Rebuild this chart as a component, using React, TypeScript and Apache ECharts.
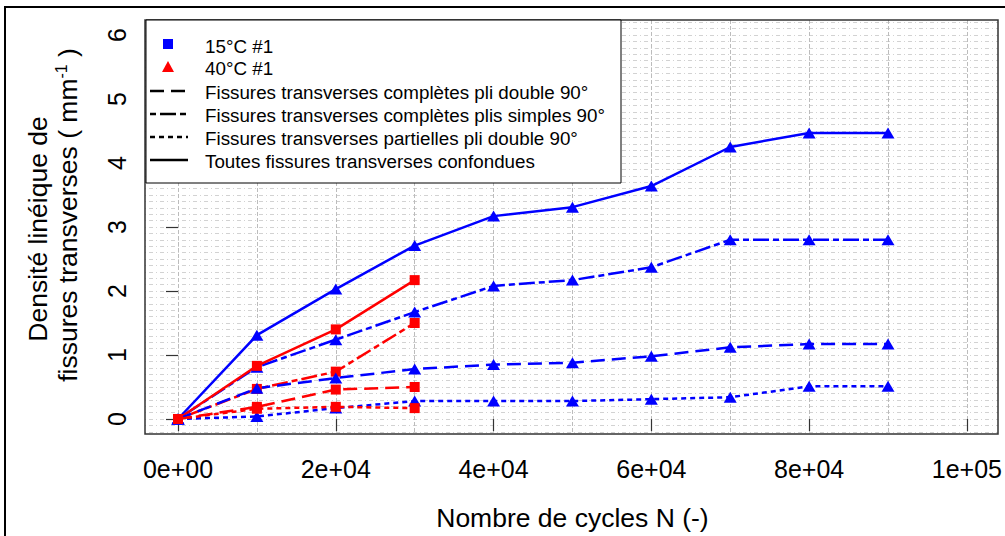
import React, { useEffect, useRef } from "react";
import * as echarts from "echarts";

// ---- data ----
const cycles15 = [0, 10000, 20000, 30000, 40000, 50000, 60000, 70000, 80000, 90000];
const cycles40 = [0, 10000, 20000, 30000];

const blueTotal = [0, 1.31, 2.03, 2.71, 3.17, 3.31, 3.64, 4.25, 4.47, 4.47];
const blueSimples = [0, 0.81, 1.24, 1.67, 2.08, 2.17, 2.37, 2.8, 2.8, 2.8];
const blueDouble = [0, 0.48, 0.64, 0.78, 0.85, 0.88, 0.98, 1.12, 1.17, 1.17];
const bluePartielles = [0, 0.04, 0.17, 0.28, 0.28, 0.28, 0.31, 0.34, 0.51, 0.51];

const redTotal = [0, 0.83, 1.4, 2.17];
const redSimples = [0, 0.47, 0.74, 1.5];
const redDouble = [0, 0.19, 0.46, 0.5];
const redPartielles = [0, 0.16, 0.19, 0.17];

const xTickValues = [0, 20000, 40000, 60000, 80000, 100000];
const xTickLabels = ["0e+00", "2e+04", "4e+04", "6e+04", "8e+04", "1e+05"];
const yTickLabels = ["0", "1", "2", "3", "4", "5", "6"];

const legendLabels = [
  "15°C #1",
  "40°C #1",
  "Fissures transverses complètes pli double 90°",
  "Fissures transverses complètes plis simples 90°",
  "Fissures transverses partielles pli double 90°",
  "Toutes fissures transverses confondues",
];

const xTitle = "Nombre de cycles N (-)";
const yTitle1 = "Densité linéique de";
const yTitle2 = "fissures transverses ( mm{s|-1} )";

// ---- styles ----
const FONT = "'Liberation Sans', Arial, sans-serif";
const BLUE = "#0000ff";
const RED = "#ff0000";
const DASH_DOUBLE = [14, 7];
const DASH_SIMPLES = [6, 4, 16, 4];
const DASH_PART = [5, 4];

function mkSeries(name: string, xs: number[], ys: number[], color: string, type: any, symbol: string) {
  return {
    type: "line",
    name,
    xAxisIndex: 0,
    yAxisIndex: 0,
    data: xs.map((x, i) => [x, ys[i]]),
    symbol,
    symbolSize: symbol === "triangle" ? [13, 11] : 10,
    clip: false,
    lineStyle: { color, width: 2.5, type },
    itemStyle: { color, borderWidth: 0 },
    z: 3,
  };
}

export default function App() {
  const ref = useRef<HTMLDivElement>(null);

  useEffect(() => {
    if (!ref.current) return;
    const chart = echarts.init(ref.current, null, { renderer: "svg" });

    const hiddenParts = {
      axisLine: { show: false },
      axisTick: { show: false },
      axisLabel: { show: false },
    };

    const legendRowsY = [46, 68, 92, 115, 138, 161];
    const lineDashes: any[] = [DASH_DOUBLE, DASH_SIMPLES, DASH_PART, null];

    const graphic: any[] = [
      // outer frame
      {
        type: "rect",
        shape: { x: 5, y: 7, width: 1010, height: 540 },
        style: { fill: "none", stroke: "#000", lineWidth: 2 },
        z: 60,
      },
      // plot box
      {
        type: "rect",
        shape: { x: 145, y: 20, width: 853, height: 414 },
        style: { fill: "none", stroke: "#333", lineWidth: 1.5 },
        z: 40,
      },
      // legend box
      {
        type: "rect",
        shape: { x: 146, y: 20, width: 475, height: 163 },
        style: { fill: "#fff", stroke: "#000", lineWidth: 1 },
        z: 50,
      },
      {
        type: "rect",
        shape: { x: 163, y: legendRowsY[0] - 7, width: 10, height: 10 },
        style: { fill: BLUE },
        z: 51,
      },
      {
        type: "polygon",
        shape: {
          points: [
            [168, legendRowsY[1] - 7],
            [174, legendRowsY[1] + 4],
            [162, legendRowsY[1] + 4],
          ],
        },
        style: { fill: RED },
        z: 51,
      },
      ...lineDashes.map((d, i) => ({
        type: "line",
        shape: { x1: 150, y1: legendRowsY[i + 2] - 1, x2: 188, y2: legendRowsY[i + 2] - 1 },
        style: { stroke: "#000", lineWidth: 2.5, lineDash: d || undefined },
        z: 51,
      })),
      ...legendLabels.map((t, i) => ({
        type: "text",
        x: 205,
        y: legendRowsY[i],
        style: {
          text: t,
          fontSize: 18.8,
          fontFamily: FONT,
          fill: "#000",
          align: "left",
          verticalAlign: "middle",
        },
        z: 51,
      })),
      // y title
      {
        type: "text",
        x: 38,
        y: 229,
        rotation: Math.PI / 2,
        style: {
          text: yTitle1,
          fontSize: 26.5,
          fontFamily: FONT,
          fill: "#000",
          align: "center",
          verticalAlign: "middle",
        },
        z: 51,
      },
      {
        type: "text",
        x: 68,
        y: 215,
        rotation: Math.PI / 2,
        style: {
          text: yTitle2,
          fontSize: 26.5,
          lineHeight: 30,
          fontFamily: FONT,
          fill: "#000",
          align: "center",
          verticalAlign: "middle",
          rich: {
            s: { fontSize: 16, lineHeight: 16, verticalAlign: "top", fontFamily: FONT, fill: "#000" },
          },
        },
        z: 51,
      },
    ];

    chart.setOption({
      animation: false,
      backgroundColor: "#fff",
      textStyle: { fontFamily: FONT },
      grid: [
        { left: 178, right: 38, top: 35, bottom: 117 },
        { left: 178, right: 38, top: 20, bottom: 102 },
        { left: 145, right: 7, top: 22.2, bottom: 104.2 },
      ],
      xAxis: [
        {
          type: "value",
          gridIndex: 0,
          min: 0,
          max: 100000,
          interval: 20000,
          offset: 15,
          axisLine: { show: false },
          axisTick: { show: true, length: 12, lineStyle: { color: "#333", width: 1.2 } },
          axisLabel: {
            show: true,
            margin: 22,
            fontSize: 25,
            color: "#000",
            fontFamily: FONT,
            formatter: (v: number) => xTickLabels[xTickValues.indexOf(v)] ?? "",
          },
          splitLine: { show: false },
          name: xTitle,
          nameLocation: "middle",
          nameGap: 70,
          nameTextStyle: { fontSize: 26.5, color: "#000", fontFamily: FONT },
        },
        {
          type: "value",
          gridIndex: 1,
          min: 0,
          max: 100000,
          interval: 10000,
          ...hiddenParts,
          splitLine: { show: true, lineStyle: { color: "#bcbcbc", width: 1, type: [4, 2] } },
        },
        {
          type: "value",
          gridIndex: 2,
          min: 0,
          max: 1,
          ...hiddenParts,
          splitLine: { show: false },
        },
      ],
      yAxis: [
        {
          type: "value",
          gridIndex: 0,
          min: 0,
          max: 6,
          interval: 1,
          offset: 33,
          axisLine: { show: false },
          axisTick: { show: true, length: 12, lineStyle: { color: "#333", width: 1.2 } },
          axisLabel: {
            show: true,
            rotate: 90,
            margin: 16,
            fontSize: 25,
            color: "#000",
            fontFamily: FONT,
            formatter: (v: number) => yTickLabels[Math.round(v)] ?? "",
          },
          splitLine: { show: false },
        },
        {
          type: "value",
          gridIndex: 1,
          min: 0,
          max: 1,
          ...hiddenParts,
          splitLine: { show: false },
        },
        {
          type: "value",
          gridIndex: 2,
          min: -0.2,
          max: 6.2,
          interval: 0.1,
          ...hiddenParts,
          splitLine: { show: true, lineStyle: { color: "#d2d2d2", width: 1, type: [1, 3, 4, 3] } },
        },
      ],
      series: [
        mkSeries("15°C total", cycles15, blueTotal, BLUE, "solid", "triangle"),
        mkSeries("15°C simples", cycles15, blueSimples, BLUE, DASH_SIMPLES, "triangle"),
        mkSeries("40°C total", cycles40, redTotal, RED, "solid", "rect"),
        mkSeries("40°C simples", cycles40, redSimples, RED, DASH_SIMPLES, "rect"),
        mkSeries("15°C double", cycles15, blueDouble, BLUE, DASH_DOUBLE, "triangle"),
        mkSeries("15°C partielles", cycles15, bluePartielles, BLUE, DASH_PART, "triangle"),
        mkSeries("40°C double", cycles40, redDouble, RED, DASH_DOUBLE, "rect"),
        mkSeries("40°C partielles", cycles40, redPartielles, RED, DASH_PART, "rect"),
      ],
      graphic,
    });

    return () => chart.dispose();
  }, []);

  return (
    <div
      ref={ref}
      style={{ position: "fixed", left: 0, top: 0, width: 1005, height: 536, background: "#fff" }}
    />
  );
}
